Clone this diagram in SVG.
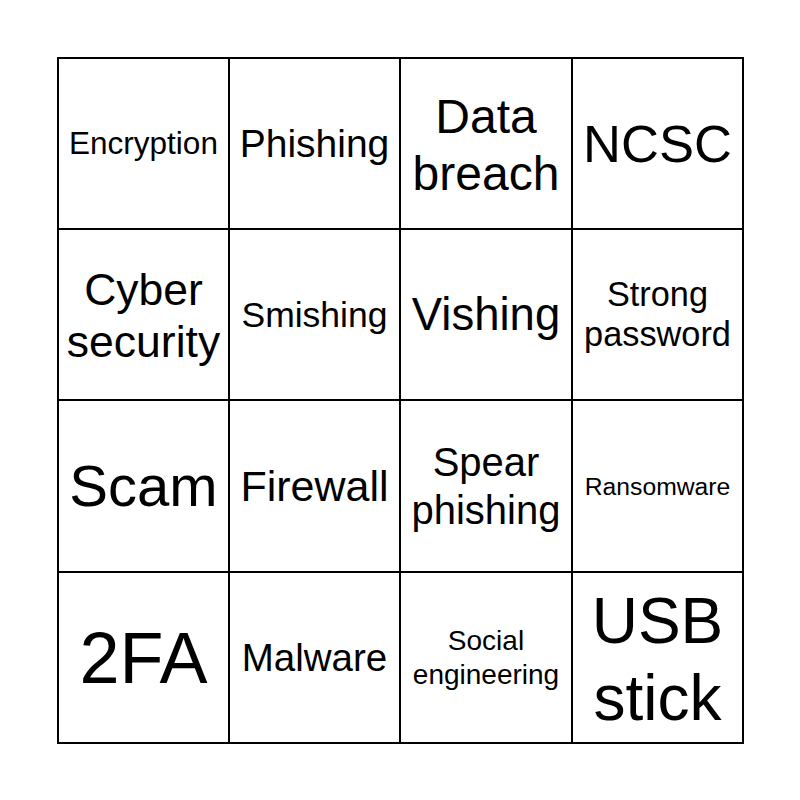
<svg xmlns="http://www.w3.org/2000/svg" width="800" height="800" viewBox="0 0 800 800">
<style>
.g{stroke:#000;stroke-width:2;fill:none}
text{font-family:"Liberation Sans",Arial,sans-serif;fill:#000;text-anchor:middle}
</style>
<rect width="800" height="800" fill="#fff"/>
<g id="grid" class="g">
<rect x="58" y="58" width="685" height="685"/>
<line x1="229" y1="58" x2="229" y2="743"/>
<line x1="400" y1="58" x2="400" y2="743"/>
<line x1="572" y1="58" x2="572" y2="743"/>
<line x1="58" y1="229" x2="743" y2="229"/>
<line x1="58" y1="400" x2="743" y2="400"/>
<line x1="58" y1="572" x2="743" y2="572"/>
</g>
<g id="c11"><text x="143.5" y="154" font-size="31.5">Encryption</text></g>
<g id="c12"><text x="314.5" y="157" font-size="39">Phishing</text></g>
<g id="c13"><text x="486" y="133" font-size="48">Data</text><text x="486" y="190" font-size="48">breach</text></g>
<g id="c14"><text x="657.5" y="162" font-size="52.5">NCSC</text></g>
<g id="c21"><text x="143.5" y="305" font-size="44.5">Cyber</text><text x="143.5" y="357" font-size="44.5">security</text></g>
<g id="c22"><text x="314.5" y="327" font-size="35.5">Smishing</text></g>
<g id="c23"><text x="486" y="330" font-size="45.5">Vishing</text></g>
<g id="c24"><text x="657.5" y="306" font-size="34.3">Strong</text><text x="657.5" y="346" font-size="34.3">password</text></g>
<g id="c31"><text x="143.5" y="506" font-size="58">Scam</text></g>
<g id="c32"><text x="314.5" y="501" font-size="43">Firewall</text></g>
<g id="c33"><text x="486" y="476" font-size="40">Spear</text><text x="486" y="524" font-size="40">phishing</text></g>
<g id="c34"><text x="657.5" y="495" font-size="24.7">Ransomware</text></g>
<g id="c41"><text x="143.5" y="683" font-size="72">2FA</text></g>
<g id="c42"><text x="314.5" y="671" font-size="38.5">Malware</text></g>
<g id="c43"><text x="486" y="650" font-size="28">Social</text><text x="486" y="684" font-size="28">engineering</text></g>
<g id="c44"><text x="657.5" y="643" font-size="64">USB</text><text x="657.5" y="720" font-size="64">stick</text></g>
</svg>
